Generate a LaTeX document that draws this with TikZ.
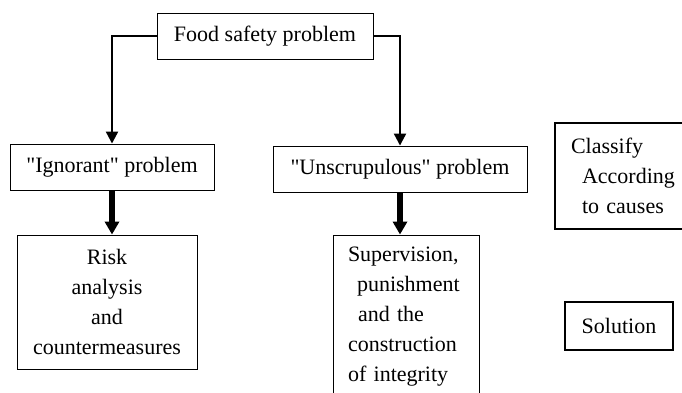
\documentclass[tikz,border=0pt]{standalone}
\usepackage{fontspec}
\setmainfont{Liberation Serif}
\usetikzlibrary{arrows.meta}

\begin{document}
\begin{tikzpicture}[x=1pt, y=-1pt,
        box/.style={draw, line width=0.9pt, inner sep=0pt, align=center, font=\fontsize{22}{30}\selectfont},
        boldbox/.style={box, line width=2.2pt},
        conn/.style={line width=2.2pt, -{Triangle[length=12pt, width=12pt]}},
        bigconn/.style={line width=6.5pt, -{Triangle[length=13pt, width=14pt]}}]
        \useasboundingbox (0,0) rectangle (682,393);
        \clip (0,0) rectangle (682,393);

        % Блоки
        \node[box, minimum width=216pt, minimum height=46pt] (food) at (265,36)  {Food safety problem};
        \node[box, minimum width=204pt, minimum height=46pt] (ign)  at (112,167) {\textquotedbl Ignorant\textquotedbl{} problem};
        \node[box, minimum width=254pt, minimum height=46pt] (uns)  at (400,169) {\textquotedbl Unscrupulous\textquotedbl{} problem};
        \node[box, minimum width=180pt, minimum height=134pt] (risk) at (107,302) {Risk\\analysis\\and\\countermeasures};
        \node[box, minimum height=164pt, text width=116pt, inner xsep=15pt, align=left] (sup) at (406,317)
            {Supervision,\\\hspace{9pt}punishment\\\hspace{10pt}and the\\construction\\of integrity};

        % Пояснения справа
        \node[boldbox, minimum height=106pt, text width=129pt, inner xsep=16pt, align=left] (cls) at (635.5,176)
            {Classify\\\hspace{11pt}According\\\hspace{11pt}to causes};
        \node[boldbox, minimum width=108pt, minimum height=48pt] (sol) at (619,326) {Solution};

        % Стрелки
        \draw[conn] (food.west) -| (ign.north);
        \draw[conn] (food.east) -| (uns.north);
        \draw[bigconn] (ign.south) -- (ign.south |- risk.north);
        \draw[bigconn] (uns.south) -- (uns.south |- sup.north);
    \end{tikzpicture}
\end{document}
